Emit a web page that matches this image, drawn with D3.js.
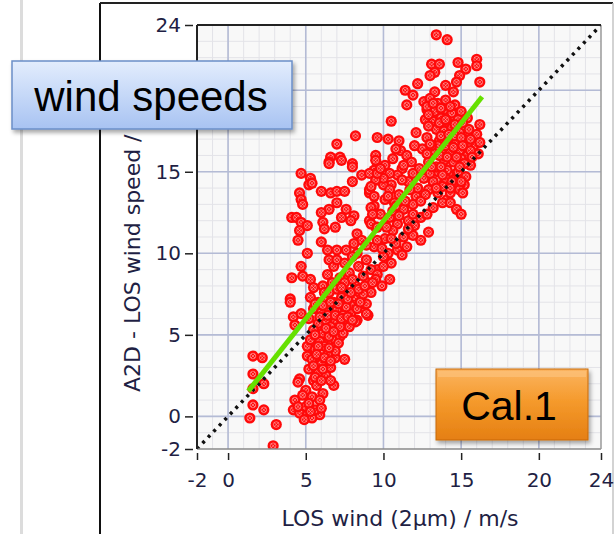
<!DOCTYPE html>
<meta charset="utf-8" />
<style>
  body { margin: 0; background: #fff; overflow: hidden; }
  svg { font-family: "DejaVu Sans", sans-serif; display: block; }
</style>
<body>
<svg id="chart"></svg>
<script src="https://cdn.jsdelivr.net/npm/d3@7/dist/d3.min.js"></script>
<script>
var width = 616, height = 534;

// axis ticks
var xTicks = [-2, 0, 5, 10, 15, 20, 24];
var yTicks = [-2, 0, 5, 10, 15, 20, 24];

// linear fit (green) end points and 1:1 line
var fitLine = [[1.3, 1.55], [16.35, 19.6]];
var oneToOne = [[-2, -2], [24, 24]];

// measured points: [LOS wind 2um, A2D LOS wind speed]
var upperCluster = [
  [13.4,23.4],[14.1,23.1],[13.1,21.6],[13.6,21.6],[13.3,21.1],[13.0,20.9],[14.8,21.7],
  [16.0,21.9],[16.0,21.5],[15.3,21.3],[16.2,20.5],[14.9,20.9],[14.7,20.5],[14.5,19.9],
  [12.2,20.4],[11.4,20.0],[11.9,19.7],[11.5,19.1],[13.3,19.9],[14.0,20.3],
  [12.6,19.3],[13.0,19.5],[13.5,19.2],[14.0,19.4],[14.6,19.1],[12.8,18.8],[13.3,18.7],
  [13.9,18.8],[14.4,18.6],[15.0,18.7],[12.7,18.2],[13.2,18.1],[13.7,18.3],[14.2,18.0],
  [14.8,18.2],[15.4,18.3],[13.4,17.6],[13.9,17.5],[14.4,17.7],[14.9,17.4],[15.5,17.6],
  [16.0,17.3],[13.6,16.9],[14.1,17.0],[14.7,16.8],[15.2,17.0],[15.8,16.6],[13.3,16.3],
  [13.8,16.4],[14.3,16.2],[14.9,16.3],[15.4,16.0],[16.1,16.1],[13.9,15.7],[14.5,15.6],
  [15.0,15.8],[15.6,15.4],[13.5,15.0],[14.2,14.9],[14.8,15.0],[15.3,14.7],[13.2,14.4],
  [13.9,14.3],[14.6,14.1],[15.2,14.2],[13.5,13.7],[14.1,13.3],[12.9,13.9],[12.6,14.6],
  [12.3,15.2],[12.9,15.6],[12.5,16.4],[16.2,17.9],[15.4,16.7],[16.2,16.8],
  [13.4,15.3],[14.1,15.1],[14.5,14.5],[13.8,14.1],[14.3,13.7],[14.9,13.9],[15.1,13.7],
  [13.8,13.1],[14.3,13.1],[14.7,12.7],[15.0,12.4],[12.1,13.5],[12.7,13.6],[11.9,13.0],
  [12.8,19.0],[13.2,19.2],[13.7,18.9],[14.3,19.0],[12.9,18.5],[13.6,18.0],[14.0,18.2],
  [14.6,17.9],[15.1,18.0],[13.7,17.2],[14.2,17.3],[14.6,17.2],[15.0,17.1],[15.6,17.0],
  [13.5,16.6],[14.0,16.6],[14.5,16.5],[15.1,16.6],[15.6,16.3],[13.6,16.0],[14.1,15.9],
  [14.7,15.9],[15.2,15.5],[13.7,15.3],[14.0,14.6],[14.4,14.4],[15.0,14.4],[13.4,14.0],
  [14.3,14.0],[13.0,14.9],[13.8,14.8],[13.1,15.3],[12.8,16.1],[13.1,16.6],[14.9,15.3],
  [15.7,15.9]
];
var middleCluster = [
  [10.5,18.1],[12.1,17.4],[12.9,17.8],[12.8,17.1],[13.0,16.7],[9.6,17.1],[8.2,17.2],
  [7.0,16.7],[9.5,16.0],[11.0,16.9],[11.1,16.3],[6.6,15.9],[7.2,15.9],[6.5,15.6],[8.0,15.5],
  [10.3,17.0],[10.8,16.4],[11.5,16.0],[12.0,16.6],[10.6,15.8],[11.2,15.2],[11.8,15.6],
  [10.9,14.8],[11.6,14.4],[12.2,14.0],[10.5,14.2],[11.0,13.6],[11.7,13.9],[10.7,13.1],
  [12.4,13.2],[11.3,15.4],[10.4,14.9],[11.2,14.5],[11.9,14.9],[9.4,15.1],[9.6,14.5],
  [10.0,14.2],[9.1,13.7],[9.4,12.9],[9.1,12.0],[9.5,11.6],[9.4,10.4],[9.5,15.7],[10.1,15.4],
  [10.0,14.6],[10.4,13.9],[10.1,13.3],[11.3,12.7],[10.4,12.2],[10.9,11.8],[10.6,11.4],
  [11.3,11.0],[11.9,11.1],[12.4,10.8],[11.5,10.4],[10.9,10.2],[12.9,11.3],[10.3,10.0],
  [10.5,9.4],[10.0,9.8],[10.4,8.4],[9.6,9.0],[9.8,12.4],[10.1,10.9],[9.6,10.8],[10.2,11.6],
  [10.6,12.6],[11.0,12.3],[11.6,12.0],[12.0,11.7],[10.8,10.6],[11.2,9.9],[10.0,9.2],
  [10.3,13.5],[10.8,12.9],[11.4,13.2],[11.9,12.4],[12.4,12.2],[11.6,11.5],[10.5,10.9],
  [9.9,10.3],[12.8,12.4],[13.2,12.8]
];
var leftCluster = [
  [6.5,15.5],[7.3,15.7],[8.0,15.3],[4.7,14.9],[5.3,14.6],[5.2,14.2],[5.4,14.3],[4.6,13.7],
  [4.7,13.3],[4.8,13.0],[6.0,13.8],[6.6,13.7],[7.0,13.8],[7.5,13.8],[8.0,14.4],[8.6,14.8],
  [9.1,14.9],[9.5,14.5],[9.6,14.9],[9.8,15.2],[9.1,13.9],[9.4,13.5],[9.2,14.1],[6.5,12.7],
  [7.0,13.1],[7.6,12.7],[8.1,12.3],[7.3,12.2],[7.9,12.0],[6.9,11.6],[6.0,12.5],[6.1,11.9],
  [6.2,11.5],[4.1,12.2],[4.4,12.2],[4.7,11.9],[4.6,11.4],[5.1,11.7],[4.5,10.8],[9.2,12.8],
  [9.3,12.4],[9.2,11.8],[9.6,11.6],[8.3,11.2],[8.6,10.8],[8.9,10.5],[6.0,10.7],[5.1,10.0],
  [6.4,10.2],[7.0,10.2],[7.6,10.2],[6.5,9.6],[6.8,9.2],[6.4,8.7],[7.0,9.6],[6.7,8.2],
  [6.1,8.0],[6.2,7.6],[4.7,9.2],[4.8,8.6],[5.3,8.4],[5.5,7.9],[4.1,8.5],[4.0,7.2],
  [8.1,10.6],[8.3,10.0],[8.9,9.6],[9.2,9.0],[9.6,8.7],[9.0,8.2],[9.2,7.6],[8.6,6.9],
  [9.5,8.4],[9.9,8.0],[8.7,8.6],[8.4,9.2],[8.0,9.8],[7.8,8.8],[8.2,8.0],[8.7,7.5],
  [7.5,9.4],[7.2,8.5],[7.6,7.6],[8.1,7.2],[7.9,6.8]
];
var lowerCluster = [
  [4.0,7.0],[4.2,6.1],[4.7,6.3],[4.3,5.6],[1.6,3.7],[2.2,3.6],[1.6,2.6],[2.3,2.0],[1.6,1.7],
  [1.6,0.7],[2.3,0.4],[1.4,-0.1],[3.1,-0.5],[2.9,-1.8],[5.1,4.3],[5.1,3.7],[5.7,3.3],
  [6.4,4.5],[6.8,3.7],[7.0,5.3],[7.2,4.9],[7.4,5.9],[7.9,6.3],[6.8,6.3],[6.1,5.9],[6.6,5.1],
  [6.9,3.6],[7.5,3.5],[6.6,3.0],[4.6,2.3],[4.5,2.1],[5.5,2.2],[5.7,1.9],[6.1,1.4],[6.8,1.9],
  [4.3,1.0],[4.2,0.4],[4.6,0.2],[5.0,0.6],[5.1,0.1],[5.9,0.1],[5.4,-0.1],[8.3,5.9],[8.9,6.9],
  [9.0,6.2],[7.4,5.1],[8.2,5.8],[8.9,6.3],
  [5.3,7.3],[5.8,7.0],[6.3,7.2],[6.8,7.0],[7.3,7.3],[5.5,6.6],[6.0,6.4],[6.5,6.6],[7.0,6.5],
  [7.6,6.7],[5.2,6.0],[5.8,5.7],[6.3,5.9],[6.9,5.8],[7.8,5.5],[5.5,5.3],[6.1,5.1],[6.6,5.5],
  [7.2,5.5],[5.3,4.7],[5.9,4.6],[6.5,4.9],[7.1,4.5],[5.6,4.1],[6.2,4.3],[6.9,4.0],[5.4,3.5],
  [6.0,3.2],[6.4,3.8],[5.8,2.7],[6.3,2.5],[5.2,2.9],[6.6,2.2],[5.0,1.6],[5.4,1.2],[5.9,1.0],
  [4.8,1.3],[5.2,0.8],[5.6,0.4],[4.9,-0.2],[5.3,0.3],[6.0,0.5],[4.5,0.6],
  [5.6,6.9],[6.1,6.8],[6.6,7.0],[7.1,6.9],[5.9,6.1],[6.4,6.2],[6.9,6.2],[7.4,6.2],[5.6,5.0],
  [6.3,5.4],[6.8,5.2],[5.8,4.3],[6.5,4.2],[5.7,3.8],[6.2,3.6],[6.6,3.4],[5.5,3.1],[6.1,2.9],
  [5.6,2.4],[6.0,2.2],[7.3,6.0],[7.7,6.1],[8.0,5.9],[7.7,7.2],[8.3,6.6],[8.5,7.0],[7.9,7.6],
  [8.4,7.8],[8.0,8.4],[8.8,8.0],[9.3,8.2],[7.5,8.2],[7.0,7.8],[6.5,7.6],[7.3,7.9]
];
var points = upperCluster.concat(middleCluster, leftCluster, lowerCluster);

var svg = d3.select("#chart").attr("width", width).attr("height", height);
var defs = svg.append("defs");

var x = d3.scaleLinear().domain([-2, 24]).range([197, 601]);
var y = d3.scaleLinear().domain([-2, 24]).range([449, 25]);

// gradients / shadows
var gBlue = defs.append("linearGradient").attr("id", "gBlue").attr("x1", 0).attr("y1", 0).attr("x2", 0).attr("y2", 1);
gBlue.append("stop").attr("offset", "0%").attr("stop-color", "#e3edfd");
gBlue.append("stop").attr("offset", "100%").attr("stop-color", "#a8c3f2");
var gOr = defs.append("linearGradient").attr("id", "gOr").attr("x1", 0).attr("y1", 0).attr("x2", 0).attr("y2", 1);
gOr.append("stop").attr("offset", "0%").attr("stop-color", "#fbb460");
gOr.append("stop").attr("offset", "45%").attr("stop-color", "#f59a2c");
gOr.append("stop").attr("offset", "100%").attr("stop-color", "#e57f12");
var sh = defs.append("filter").attr("id", "shadow").attr("x", "-10%").attr("y", "-10%").attr("width", "130%").attr("height", "140%");
sh.append("feDropShadow").attr("dx", 2).attr("dy", 3).attr("stdDeviation", 2).attr("flood-color", "#000").attr("flood-opacity", 0.35);
defs.append("clipPath").attr("id", "plotClip").append("rect")
  .attr("x", x(-2)).attr("y", y(24)).attr("width", x(24) - x(-2)).attr("height", y(-2) - y(24));

// page decoration: faint left rule and outer frame
svg.append("rect").attr("x", 20).attr("y", 0).attr("width", 3).attr("height", height).attr("fill", "#dcdcdc");
svg.append("line").attr("x1", 100).attr("x2", 100).attr("y1", 3).attr("y2", height).attr("stroke", "#111").attr("stroke-width", 2);
svg.append("line").attr("x1", 100).attr("x2", 613).attr("y1", 3).attr("y2", 3).attr("stroke", "#222").attr("stroke-width", 2);
svg.append("line").attr("x1", 613).attr("x2", 613).attr("y1", 3).attr("y2", height).attr("stroke", "#c4c4c4").attr("stroke-width", 1.5);

// plot background + grids
svg.append("rect").attr("x", x(-2)).attr("y", y(24)).attr("width", x(24) - x(-2)).attr("height", y(-2) - y(24)).attr("fill", "#f8f8f8");
var minor = d3.range(-1, 24);
svg.append("g").selectAll("line").data(minor).join("line")
  .attr("x1", d => x(d)).attr("x2", d => x(d)).attr("y1", y(-2)).attr("y2", y(24))
  .attr("stroke", "#e3e3e8").attr("stroke-width", 1);
svg.append("g").selectAll("line").data(minor).join("line")
  .attr("y1", d => y(d)).attr("y2", d => y(d)).attr("x1", x(-2)).attr("x2", x(24))
  .attr("stroke", "#e3e3e8").attr("stroke-width", 1);
var major = [0, 5, 10, 15, 20];
svg.append("g").selectAll("line").data(major).join("line")
  .attr("x1", d => x(d)).attr("x2", d => x(d)).attr("y1", y(-2)).attr("y2", y(24))
  .attr("stroke", "#b4bbd5").attr("stroke-width", 1.6);
svg.append("g").selectAll("line").data(major).join("line")
  .attr("y1", d => y(d)).attr("y2", d => y(d)).attr("x1", x(-2)).attr("x2", x(24))
  .attr("stroke", "#b4bbd5").attr("stroke-width", 1.6);

// scatter markers
var plot = svg.append("g").attr("clip-path", "url(#plotClip)");
var mk = plot.append("g").selectAll("g").data(points).join("g")
  .attr("transform", d => "translate(" + x(d[0]) + "," + y(d[1]) + ")");
mk.append("circle").attr("r", 5.6).attr("fill", "#ff0a0a");
mk.append("circle").attr("r", 2.8).attr("fill", "none").attr("stroke", "#fff").attr("stroke-width", 0.6).attr("opacity", 0.7);
mk.append("path").attr("d", "M-2,-2L2,2M-2,2L2,-2").attr("stroke", "#fff").attr("stroke-width", 0.6).attr("opacity", 0.7);

var line = d3.line().x(d => x(d[0])).y(d => y(d[1]));
plot.append("path").attr("d", line(oneToOne)).attr("fill", "none")
  .attr("stroke", "#111").attr("stroke-width", 3.5).attr("stroke-dasharray", "3,5");
plot.append("path").attr("d", line(fitLine)).attr("fill", "none")
  .attr("stroke", "#66e000").attr("stroke-width", 5);

// plot frame
svg.append("line").attr("x1", x(-2)).attr("x2", x(24)).attr("y1", y(-2)).attr("y2", y(-2)).attr("stroke", "#8a8a8a").attr("stroke-width", 1.5);
svg.append("line").attr("x1", x(24)).attr("x2", x(24)).attr("y1", y(-2)).attr("y2", y(24)).attr("stroke", "#9a9a9a").attr("stroke-width", 1.5);
svg.append("line").attr("x1", x(-2)).attr("x2", x(24)).attr("y1", y(24)).attr("y2", y(24)).attr("stroke", "#222").attr("stroke-width", 2);
svg.append("line").attr("x1", x(-2)).attr("x2", x(-2)).attr("y1", y(-2)).attr("y2", y(24)).attr("stroke", "#222").attr("stroke-width", 2);

// axes
var txtCol = "#1f1f44";
var xAxis = svg.append("g").attr("transform", "translate(0," + (y(-2) + 4) + ")")
  .call(d3.axisBottom(x).tickValues(xTicks).tickSize(7).tickPadding(13).tickFormat(d => String(d)));
xAxis.select(".domain").remove();
xAxis.selectAll("line").attr("stroke", "#222").attr("stroke-width", 1.5);
xAxis.selectAll("text").attr("fill", txtCol).attr("font-size", 20).attr("font-family", "DejaVu Sans");

var yAxis = svg.append("g").attr("transform", "translate(" + (x(-2) - 4) + ",0)")
  .call(d3.axisLeft(y).tickValues(yTicks).tickSize(8).tickPadding(4).tickFormat(d => String(d)));
yAxis.select(".domain").remove();
yAxis.selectAll("line").attr("stroke", "#222").attr("stroke-width", 1.5);
yAxis.selectAll("text").attr("fill", txtCol).attr("font-size", 20).attr("font-family", "DejaVu Sans");

svg.append("text").attr("x", 400).attr("y", 526).attr("text-anchor", "middle")
  .attr("font-size", 22).attr("fill", txtCol).text("LOS wind (2\u00b5m) / m/s");
svg.append("text").attr("transform", "translate(140,392) rotate(-90)").attr("text-anchor", "start")
  .attr("font-size", 22).attr("fill", txtCol).text("A2D - LOS wind speed / m/s");

// callout boxes
svg.append("rect").attr("x", 12).attr("y", 61).attr("width", 280).attr("height", 68)
  .attr("fill", "url(#gBlue)").attr("stroke", "#6b8fc8").attr("stroke-width", 1.5).attr("filter", "url(#shadow)");
svg.append("text").attr("x", 151).attr("y", 111).attr("text-anchor", "middle")
  .attr("font-family", "Liberation Sans, Arial, sans-serif").attr("font-size", 42).attr("fill", "#000").text("wind speeds");

svg.append("rect").attr("x", 436).attr("y", 369).attr("width", 152).attr("height", 71)
  .attr("fill", "url(#gOr)").attr("stroke", "#c8690c").attr("stroke-width", 1).attr("filter", "url(#shadow)");
svg.append("rect").attr("x", 438).attr("y", 371).attr("width", 148).attr("height", 6).attr("fill", "#fcc27a").attr("opacity", 0.7);
svg.append("text").attr("x", 509).attr("y", 420).attr("text-anchor", "middle")
  .attr("font-family", "Liberation Sans, Arial, sans-serif").attr("font-size", 41).attr("fill", "#000").text("Cal.1");
</script>
</body>
